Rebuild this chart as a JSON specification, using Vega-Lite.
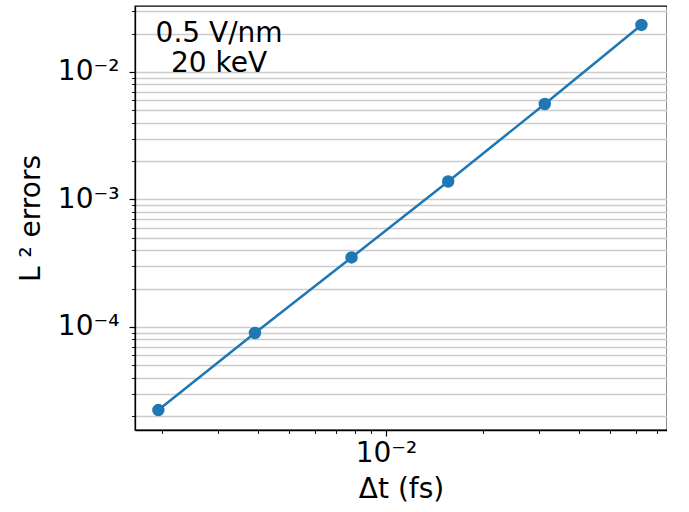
{
  "$schema": "https://vega.github.io/schema/vega-lite/v6.json",
  "width": 532,
  "height": 424,
  "padding": {"left": 17, "top": 6, "right": 0, "bottom": 0},
  "background": "white",
  "config": {
    "font": "DejaVu Sans",
    "view": {"stroke": "black", "strokeWidth": 1.3},
    "axis": {
      "domainColor": "black",
      "domainWidth": 1.3,
      "tickColor": "black",
      "labelColor": "black",
      "titleColor": "black",
      "labelFont": "DejaVu Sans",
      "titleFont": "DejaVu Sans",
      "titleFontWeight": "normal",
      "titleFontSize": 28
    }
  },
  "datasets": {
    "errs": [
      {"dt": 0.001953125, "err": 0.0000223},
      {"dt": 0.00390625, "err": 0.0000897},
      {"dt": 0.0078125, "err": 0.000351},
      {"dt": 0.015625, "err": 0.001384},
      {"dt": 0.03125, "err": 0.00561},
      {"dt": 0.0625, "err": 0.0234}
    ],
    "note": [
      {"dt": 0.00302, "err": 0.0199, "label": ["0.5 V/nm", "20 keV"]}
    ]
  },
  "encoding": {
    "x": {
      "field": "dt",
      "type": "quantitative",
      "title": "Δt (fs)",
      "scale": {"type": "log", "domain": [0.001652, 0.0751], "nice": false},
      "axis": {
        "values": [0.002, 0.003, 0.004, 0.005, 0.006, 0.007, 0.008, 0.009, 0.01, 0.02, 0.03, 0.04, 0.05, 0.06, 0.07],
        "labelExpr": "datum.value == 0.01 ? '10⁻²' : ''",
        "labelFontSize": {"condition": {"test": "datum.value == 0.01", "value": 28}, "value": 0},
        "labelOverlap": false,
        "labelFlush": false,
        "grid": false,
        "tickSize": {"condition": {"test": "datum.value == 0.01", "value": 6}, "value": 3.5},
        "tickWidth": {"condition": {"test": "datum.value == 0.01", "value": 1.2}, "value": 0.9},
        "labelPadding": 3,
        "titlePadding": 8
      }
    },
    "y": {
      "field": "err",
      "type": "quantitative",
      "title": "L ² errors",
      "scale": {"type": "log", "domain": [0.00001556, 0.03293], "nice": false},
      "axis": {
        "values": [0.00002, 0.00003, 0.00004, 0.00005, 0.00006, 0.00007, 0.00008, 0.00009, 0.0001, 0.0002, 0.0003, 0.0004, 0.0005, 0.0006, 0.0007, 0.0008, 0.0009, 0.001, 0.002, 0.003, 0.004, 0.005, 0.006, 0.007, 0.008, 0.009, 0.01, 0.02, 0.03],
        "labelExpr": "datum.value == 0.01 ? '10⁻²' : datum.value == 0.001 ? '10⁻³' : datum.value == 0.0001 ? '10⁻⁴' : ''",
        "labelFontSize": {"condition": {"test": "datum.value == 0.01 || datum.value == 0.001 || datum.value == 0.0001", "value": 28}, "value": 0},
        "labelOverlap": false,
        "labelFlush": false,
        "grid": true,
        "gridColor": "#cccccc",
        "gridWidth": 1.6,
        "tickSize": {"condition": {"test": "datum.value == 0.01 || datum.value == 0.001 || datum.value == 0.0001", "value": 6}, "value": 3.5},
        "tickWidth": {"condition": {"test": "datum.value == 0.01 || datum.value == 0.001 || datum.value == 0.0001", "value": 1.2}, "value": 0.9},
        "labelPadding": 10,
        "titlePadding": 12
      }
    }
  },
  "layer": [
    {
      "data": {"name": "errs"},
      "mark": {"type": "line", "color": "#1f77b4", "strokeWidth": 2.5}
    },
    {
      "data": {"name": "errs"},
      "mark": {"type": "point", "filled": true, "opacity": 1, "color": "#1f77b4", "size": 155}
    },
    {
      "data": {"name": "note"},
      "mark": {"type": "text", "font": "DejaVu Sans", "fontSize": 28, "align": "center", "baseline": "middle", "lineHeight": 30, "color": "black"},
      "encoding": {"text": {"field": "label"}}
    }
  ]
}
